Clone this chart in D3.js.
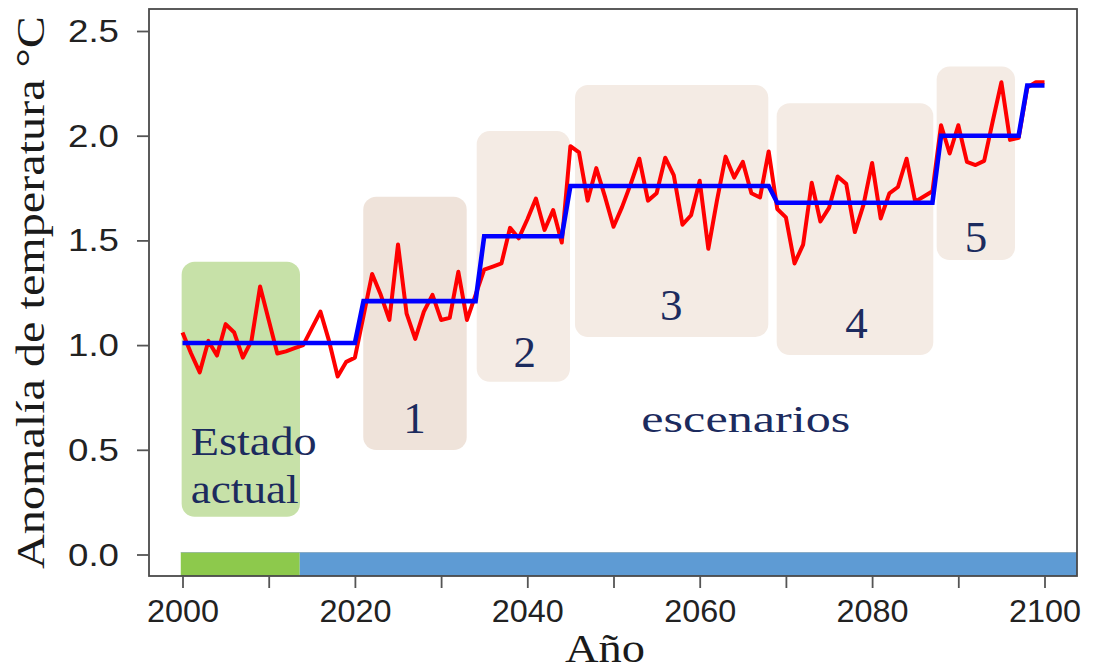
<!DOCTYPE html>
<html>
<head>
<meta charset="utf-8">
<script src="https://cdn.jsdelivr.net/npm/d3@7"></script>
<style>
  html, body { margin: 0; padding: 0; background: #fff; }
  svg { display: block; }
</style>
</head>
<body>
<svg id="chart" width="1093" height="671"></svg>
<script>
// ---- data -------------------------------------------------------------
// Annual temperature anomaly (°C), one value per year from firstYear
const firstYear = 2000;
const anomaly = [
  1.06, 0.96, 0.87, 1.02, 0.95, 1.10, 1.06, 0.94, 1.02, 1.28,   // 2000-2009
  1.12, 0.96, 0.97, 0.985, 1.00, 1.08, 1.16, 1.02, 0.85, 0.92,  // 2010-2019
  0.94, 1.14, 1.34, 1.24, 1.12, 1.48, 1.15, 1.03, 1.16, 1.24,   // 2020-2029
  1.12, 1.13, 1.35, 1.12, 1.24, 1.36, 1.375, 1.39, 1.56, 1.51,  // 2030-2039
  1.60, 1.70, 1.55, 1.645, 1.49, 1.95, 1.92, 1.69, 1.845, 1.71, // 2040-2049
  1.565, 1.66, 1.77, 1.89, 1.69, 1.725, 1.895, 1.81, 1.575, 1.62, // 2050-2059
  1.785, 1.46, 1.69, 1.90, 1.80, 1.875, 1.725, 1.705, 1.925, 1.65, // 2060-2069
  1.61, 1.39, 1.48, 1.775, 1.59, 1.655, 1.805, 1.77, 1.54, 1.67,  // 2070-2079
  1.87, 1.605, 1.725, 1.755, 1.89, 1.685, 1.71, 1.735, 2.05, 1.915, // 2080-2089
  2.05, 1.875, 1.86, 1.88, 2.07, 2.255, 1.98, 1.99, 2.23, 2.255,  // 2090-2099
  2.255                                                           // 2100
];

// Scenario mean levels: the year each level starts and its value
const stepStartYears = [2000, 2021, 2035, 2045, 2069, 2088, 2098];
const stepLevels     = [1.01, 1.21, 1.52, 1.76, 1.68, 2.00, 2.24];

// Axis ticks
const yTickValues = [0.0, 0.5, 1.0, 1.5, 2.0, 2.5];
const xTickValues = [2000, 2010, 2020, 2030, 2040, 2050, 2060, 2070, 2080, 2090, 2100];
const xLabelledYears = [2000, 2020, 2040, 2060, 2080, 2100];

// Periods along the base of the plot
const periodNames = ["Estado actual", "escenarios"];
const periodStartYears = [1999.8, 2013.6];

// Scenario numbers
const scenarioLabels = ["1", "2", "3", "4", "5"];

// ---- derived series --------------------------------------------------
const tempSeries = anomaly.map((v, i) => ({ year: firstYear + i, value: v }));
const levelSeries = tempSeries.map(d => {
  let idx = 0;
  stepStartYears.forEach((s, i) => { if (d.year >= s) idx = i; });
  return { year: d.year, value: stepLevels[idx] };
});

// ---- layout ----------------------------------------------------------
const svg = d3.select("#chart");
const frame = { left: 149, right: 1077, top: 9, bottom: 576 };

const x = d3.scaleLinear().domain([2000, 2100]).range([182.5, 1044.5]);
const y = d3.scaleLinear().domain([0, 2.5]).range([554.5, 31]);

const navy = "#1c2b5e";
const serif = "'Liberation Serif', 'Times New Roman', serif";
const sans = "'Liberation Sans', Arial, sans-serif";

// Shaded panels behind the series (extents in data units)
const panels = [
  { x0: 1999.9,  x1: 2013.63, y0: 0.18,  y1: 1.398, fill: "#c7e1a8" },
  { x0: 2020.97, x1: 2032.97, y0: 0.499, y1: 1.709, fill: "#efe3da", label: scenarioLabels[0], lx: 2026.9, ly: 0.58 },
  { x0: 2034.13, x1: 2044.95, y0: 0.825, y1: 2.022, fill: "#f4ebe4", label: scenarioLabels[1], lx: 2039.7, ly: 0.897 },
  { x0: 2045.53, x1: 2067.96, y0: 1.039, y1: 2.242, fill: "#f4ebe4", label: scenarioLabels[2], lx: 2056.7, ly: 1.12 },
  { x0: 2068.93, x1: 2087.1,  y0: 0.953, y1: 2.155, fill: "#f4ebe4", label: scenarioLabels[3], lx: 2078.2, ly: 1.034 },
  { x0: 2087.49, x1: 2096.58, y0: 1.406, y1: 2.33,  fill: "#f4ebe4", label: scenarioLabels[4], lx: 2092.05, ly: 1.445 }
];

const panelG = svg.append("g");
panelG.selectAll("rect").data(panels).join("rect")
  .attr("x", d => x(d.x0))
  .attr("y", d => y(d.y1))
  .attr("width", d => x(d.x1) - x(d.x0))
  .attr("height", d => y(d.y0) - y(d.y1))
  .attr("rx", 13).attr("ry", 13)
  .attr("fill", d => d.fill);

panelG.selectAll("text").data(panels.filter(d => d.label)).join("text")
  .attr("x", d => x(d.lx))
  .attr("y", d => y(d.ly))
  .attr("text-anchor", "middle")
  .attr("font-family", serif)
  .attr("font-size", 45)
  .attr("fill", navy)
  .text(d => d.label);

// Period labels
svg.append("text")
  .attr("x", x(2000.95)).attr("y", y(0.475))
  .attr("font-family", serif).attr("font-size", 41).attr("fill", navy)
  .attr("textLength", 126).attr("lengthAdjust", "spacingAndGlyphs")
  .text(periodNames[0].split(" ")[0]);
svg.append("text")
  .attr("x", x(2000.95)).attr("y", y(0.2445))
  .attr("font-family", serif).attr("font-size", 41).attr("fill", navy)
  .attr("textLength", 108).attr("lengthAdjust", "spacingAndGlyphs")
  .text(periodNames[0].split(" ")[1]);
svg.append("text")
  .attr("x", x(2065.35)).attr("y", y(0.585))
  .attr("text-anchor", "middle")
  .attr("font-family", serif).attr("font-size", 38).attr("fill", navy)
  .attr("textLength", 209).attr("lengthAdjust", "spacingAndGlyphs")
  .text(periodNames[1]);

// Period bar along the base
const barTop = y(0.01);
const periodEnds = [periodStartYears[1], x.invert(frame.right)];
const periodColors = ["#8dc94c", "#5e9bd4"];
svg.append("g").selectAll("rect").data(periodStartYears).join("rect")
  .attr("x", (d) => x(d))
  .attr("y", barTop)
  .attr("width", (d, i) => x(periodEnds[i]) - x(d))
  .attr("height", frame.bottom - barTop)
  .attr("fill", (d, i) => periodColors[i]);
svg.append("line")
  .attr("x1", x(periodStartYears[0])).attr("x2", frame.right)
  .attr("y1", barTop).attr("y2", barTop)
  .attr("stroke", "#6f8f9f").attr("stroke-width", 0.8).attr("opacity", 0.6);

// Series lines
const line = d3.line().x(d => x(d.year)).y(d => y(d.value));

svg.append("path")
  .datum(tempSeries)
  .attr("d", line)
  .attr("fill", "none")
  .attr("stroke", "#ff0000")
  .attr("stroke-width", 4)
  .attr("stroke-linejoin", "round");

svg.append("path")
  .datum(levelSeries)
  .attr("d", line)
  .attr("fill", "none")
  .attr("stroke", "#0000ff")
  .attr("stroke-width", 4.6)
  .attr("stroke-linejoin", "miter");

// Frame
svg.append("rect")
  .attr("x", frame.left).attr("y", frame.top)
  .attr("width", frame.right - frame.left)
  .attr("height", frame.bottom - frame.top)
  .attr("fill", "none")
  .attr("stroke", "#4a4a4a")
  .attr("stroke-width", 1.8);

// Y axis
const yAxis = svg.append("g")
  .attr("transform", `translate(${frame.left},0)`)
  .call(d3.axisLeft(y).tickValues(yTickValues).tickFormat(d3.format(".1f")).tickSize(12).tickPadding(18));
yAxis.select(".domain").remove();
yAxis.selectAll(".tick line").attr("stroke", "#555").attr("stroke-width", 1.8);
yAxis.selectAll(".tick text")
  .attr("font-family", sans).attr("font-size", 31).attr("fill", "#222")
  .attr("dy", "0.34em")
  .attr("textLength", 51).attr("lengthAdjust", "spacingAndGlyphs");

// X axis
const xAxis = svg.append("g")
  .attr("transform", `translate(0,${frame.bottom})`)
  .call(d3.axisBottom(x).tickValues(xTickValues)
    .tickFormat(d => xLabelledYears.includes(d) ? String(d) : "")
    .tickSize(12));
xAxis.select(".domain").remove();
xAxis.selectAll(".tick line").attr("stroke", "#555").attr("stroke-width", 1.8);
xAxis.selectAll(".tick text")
  .attr("y", 46).attr("dy", 0)
  .attr("font-family", sans).attr("font-size", 31).attr("fill", "#222")
  .each(function(d) {
    if (xLabelledYears.includes(d)) {
      d3.select(this).attr("textLength", 72).attr("lengthAdjust", "spacingAndGlyphs");
    }
  });

// Axis titles
svg.append("text")
  .attr("transform", "translate(44,292.5) rotate(-90)")
  .attr("text-anchor", "middle")
  .attr("font-family", serif).attr("font-size", 41).attr("fill", "#1a1a1a")
  .attr("textLength", 553).attr("lengthAdjust", "spacingAndGlyphs")
  .text("Anomalía de temperatura °C");

svg.append("text")
  .attr("x", 605).attr("y", 662)
  .attr("text-anchor", "middle")
  .attr("font-family", serif).attr("font-size", 41).attr("fill", "#1a1a1a")
  .attr("textLength", 80).attr("lengthAdjust", "spacingAndGlyphs")
  .text("Año");
</script>
</body>
</html>
